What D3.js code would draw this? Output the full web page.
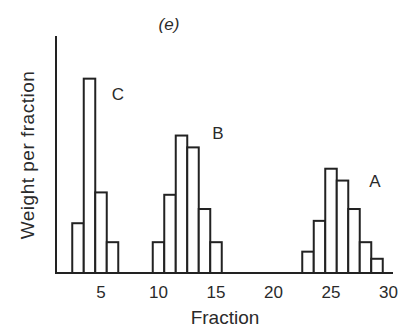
<!DOCTYPE html>
<html>
<head>
<meta charset="UTF-8" />
<script src="https://cdn.jsdelivr.net/npm/d3@7"></script>
<style>
  body { margin: 0; background: #fff; }
  text { font-family: "Liberation Sans", Arial, sans-serif; fill: #2a2a2a; }
</style>
</head>
<body>
<script>
// fractions and weight per fraction (arbitrary units, axis top = 100)
var fracC = [3, 4, 5, 6];
var weightC = [21, 82, 34, 13];
var fracB = [10, 11, 12, 13, 14, 15];
var weightB = [13, 33, 58, 53, 27, 13];
var fracA = [23, 24, 25, 26, 27, 28, 29];
var weightA = [9, 22, 44, 39, 27, 13, 6];
var xTicks = [5, 10, 15, 20, 25, 30];
var peakLabels = ["C", "B", "A"];

var width = 402, height = 329;
var svg = d3.select("body").append("svg")
  .attr("width", width)
  .attr("height", height);

var x = d3.scaleLinear().domain([0, 30]).range([43.5, 388.5]);
var y = d3.scaleLinear().domain([0, 100]).range([273, 36]);
var bw = x(1) - x(0);

var groups = [
  { name: "C", frac: fracC, w: weightC },
  { name: "B", frac: fracB, w: weightB },
  { name: "A", frac: fracA, w: weightA }
];

groups.forEach(function (g) {
  var d = g.frac.map(function (f, i) { return { f: f, w: g.w[i] }; });
  svg.append("g").selectAll("rect").data(d).enter().append("rect")
    .attr("x", function (d) { return x(d.f) - bw / 2; })
    .attr("y", function (d) { return y(d.w); })
    .attr("width", bw)
    .attr("height", function (d) { return y(0) - y(d.w); })
    .attr("fill", "#fff")
    .attr("stroke", "#222")
    .attr("stroke-width", 2);
});

// axes
svg.append("line")
  .attr("x1", 56).attr("x2", 56)
  .attr("y1", y(100)).attr("y2", y(0) + 1)
  .attr("stroke", "#222").attr("stroke-width", 2);
svg.append("line")
  .attr("x1", 55).attr("x2", 393)
  .attr("y1", y(0)).attr("y2", y(0))
  .attr("stroke", "#222").attr("stroke-width", 2);

svg.selectAll(".tick").data(xTicks).enter().append("text")
  .attr("class", "tick")
  .attr("x", function (d) { return x(d); })
  .attr("y", 298)
  .attr("text-anchor", "middle")
  .attr("font-size", 17)
  .text(function (d) { return d; });

svg.append("text")
  .attr("x", 225).attr("y", 324)
  .attr("text-anchor", "middle")
  .attr("font-size", 19)
  .text("Fraction");

svg.append("text")
  .attr("transform", "translate(34,155) rotate(-90)")
  .attr("text-anchor", "middle")
  .attr("font-size", 19)
  .attr("letter-spacing", 0.5)
  .text("Weight per fraction");

svg.append("text")
  .attr("x", 169).attr("y", 30)
  .attr("text-anchor", "middle")
  .attr("font-size", 17)
  .attr("font-style", "italic")
  .text("(e)");

// peak labels
var labelPos = [[118, 100], [218, 139], [375, 187]];
svg.selectAll(".peak").data(peakLabels).enter().append("text")
  .attr("class", "peak")
  .attr("x", function (d, i) { return labelPos[i][0]; })
  .attr("y", function (d, i) { return labelPos[i][1]; })
  .attr("text-anchor", "middle")
  .attr("font-size", 17)
  .text(function (d) { return d; });
</script>
</body>
</html>
